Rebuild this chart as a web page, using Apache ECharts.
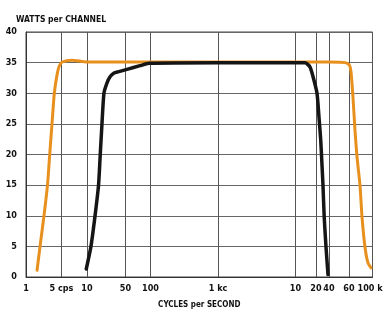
<!DOCTYPE html>
<html><head><meta charset="utf-8">
<script src="https://cdn.jsdelivr.net/npm/echarts@6/dist/echarts.min.js"></script>
<style>html,body{margin:0;padding:0;background:#fff}#c{width:383px;height:311px}</style>
</head><body><div id="c"></div>
<script>
// ---- data (frequencies in Hz, power in watts per channel) ----
const tickHz = [1, 5, 10, 50, 100, 1000, 10000, 20000, 40000, 60000, 100000];
const tickLabels = ['1', '5 cps', '10', '50', '100', '1 kc', '10', '20', '40', '60', '100 kc'];
const yTicks = [0, 5, 10, 15, 20, 25, 30, 35, 40];

const orangeHz    = [1.65, 1.89, 2.26, 2.65, 2.93, 3.25, 3.61, 4.08, 4.5, 5.1, 6.65, 10, 100, 1000, 10000, 40000, 56000, 60500, 62700, 65400, 68300, 71400, 76200, 79600, 84900, 90600, 96800];
const orangeWatts = [1.1, 5, 10, 15, 20, 25, 30, 33, 34.4, 35.1, 35.4, 35.1, 35.1, 35.1, 35.1, 35.1, 35, 34.6, 33.5, 29.4, 24, 19.6, 15, 9.8, 4.9, 2.3, 1.5];

const blackHz    = [9.8, 11.8, 14.0, 16.2, 17.4, 18.7, 20.3, 23.1, 26.2, 31, 36.5, 52.1, 74.8, 96, 1000, 10000, 13800, 16300, 18100, 21100, 23500, 25700, 27400, 29000, 30970, 34100, 37900];
const blackWatts = [1.3, 5, 10, 15, 20, 25, 30, 31.7, 32.7, 33.3, 33.5, 33.9, 34.5, 34.9, 35, 35, 35, 34.3, 32.7, 30, 26, 22.4, 18.6, 15, 9.8, 4.9, 0.4];

// ---- axis warp: the printed frequency axis is irregularly spaced; ----
// ---- each printed grid frequency sits at its own axis slot.       ----
const SLOT = [0, 35.5, 61, 99.5, 124.5, 192, 269.5, 290, 303, 323, 346.5];
function warp(f) {
  for (let i = 0; i < tickHz.length - 1; i++) {
    if (f <= tickHz[i + 1] || i === tickHz.length - 2) {
      const t = (Math.log10(f) - Math.log10(tickHz[i])) / (Math.log10(tickHz[i + 1]) - Math.log10(tickHz[i]));
      return SLOT[i] + t * (SLOT[i + 1] - SLOT[i]);
    }
  }
}
function labelFor(v) {
  let best = 0;
  for (let i = 0; i < SLOT.length; i++) if (Math.abs(SLOT[i] - v) < Math.abs(SLOT[best] - v)) best = i;
  return tickLabels[best];
}

const FONT = "'DejaVu Sans Condensed', 'Liberation Sans Narrow', sans-serif";
const chart = echarts.init(document.getElementById('c'), null, {renderer: 'canvas'});
chart.setOption({
  animation: false,
  backgroundColor: '#fff',
  title: {
    text: 'WATTS per CHANNEL', left: 11, top: 10,
    textStyle: {fontFamily: FONT, fontSize: 8.5, fontWeight: 900, color: '#111'}
  },
  grid: {left: 26, right: 10.5, top: 32, bottom: 34, show: true, borderColor: '#444', borderWidth: 1,
         containLabel: false, outerBoundsMode: 'none'},
  xAxis: {
    type: 'value', min: 0, max: SLOT[SLOT.length - 1],
    name: 'CYCLES per SECOND', nameLocation: 'middle', nameGap: 24,
    nameTextStyle: {fontFamily: FONT, fontSize: 8, fontWeight: 'bold', color: '#111'},
    axisLine: {show: true, lineStyle: {color: '#333', width: 1}},
    axisTick: {show: false, customValues: SLOT},
    axisLabel: {customValues: SLOT, formatter: v => labelFor(v), margin: 7,
      fontFamily: FONT, fontSize: 9, fontWeight: 'bold', color: '#111', hideOverlap: false},
    splitLine: {show: true, lineStyle: {color: '#555', width: 1}}
  },
  yAxis: {
    type: 'value', min: 0, max: 40, interval: 5,
    axisLine: {show: true, lineStyle: {color: '#333', width: 1}},
    axisTick: {show: false},
    axisLabel: {margin: 9, fontFamily: FONT, fontSize: 9, fontWeight: 'bold', color: '#111'},
    splitLine: {show: true, lineStyle: {color: '#666', width: 1}}
  },
  series: [
    {type: 'line', smooth: 0.2, symbol: 'none', z: 3,
     data: orangeHz.map((f, i) => [warp(f), orangeWatts[i]]),
     lineStyle: {color: '#e8901e', width: 3, cap: 'round', join: 'round'}},
    {type: 'line', smooth: 0.2, symbol: 'none', z: 4,
     data: blackHz.map((f, i) => [warp(f), blackWatts[i]]),
     lineStyle: {color: '#151515', width: 3.5, cap: 'round', join: 'round'}}
  ]
});
</script></body></html>
